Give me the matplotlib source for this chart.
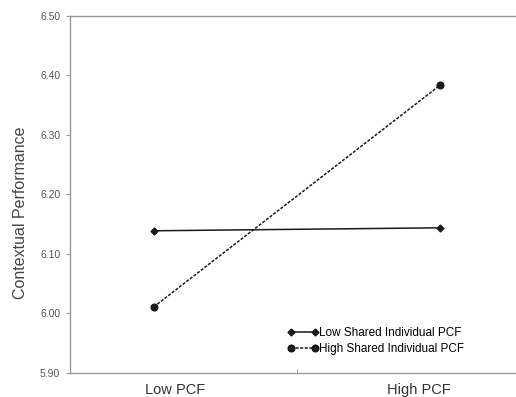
import matplotlib
matplotlib.use('Agg')
import matplotlib.pyplot as plt
from matplotlib.ticker import FixedLocator

# data
categories = ['Low PCF', 'High PCF']
low_shared = [6.139, 6.144]
high_shared = [6.011, 6.384]
series_names = ['Low Shared Individual PCF', 'High Shared Individual PCF']
yticks = [5.90, 6.00, 6.10, 6.20, 6.30, 6.40, 6.50]

plt.rcParams['font.family'] = ['Liberation Sans', 'DejaVu Sans']

fig = plt.figure(figsize=(5.16, 3.97), dpi=100)
ax = fig.add_axes([0.1357, 0.0605, 0.862, 0.8992])

x = list(range(len(categories)))
ax.plot(x, low_shared, color='#1a1a1a', lw=1.1, marker='D', ms=3.5,
        label=series_names[0])
ax.plot(x, high_shared, color='#1a1a1a', lw=1.1, ls=(0, (2, 1)), marker='o',
        ms=4.8, label=series_names[1])

ax.set_ylim(5.90, 6.50)
ax.set_yticks(yticks)
ax.set_yticklabels([f'{v:.2f}' for v in yticks], fontsize=7.5, color='#555555')
ax.set_xlim(-0.292, 1.26)
# category labels sit a little inward of the points, as in the original
ax.set_xticks([x[0] + 0.076, x[1] - 0.076])
ax.set_xticklabels(categories, fontsize=10.5, color='#333333')
ax.xaxis.set_minor_locator(FixedLocator([0.5]))
ax.tick_params(axis='x', which='major', length=0, pad=7)
ax.tick_params(axis='x', which='minor', length=3, direction='in', color='#999999')
ax.tick_params(axis='y', length=3, color='#999999', pad=4)

for s in ['left', 'bottom', 'top']:
    ax.spines[s].set_color('#999999')
    ax.spines[s].set_linewidth(1.0)
ax.spines['right'].set_visible(False)

ax.set_ylabel('Contextual Performance', fontsize=11.5, color='#444444', va='center')
ax.yaxis.set_label_coords(-0.112, 0.448)

ax.legend(loc='lower left', bbox_to_anchor=(0.489, 0.051), frameon=False,
          fontsize=8.5, numpoints=2, handlelength=2.6, handletextpad=0.05,
          borderpad=0, borderaxespad=0, labelspacing=0.35)

fig.savefig('out.png', dpi=100)
